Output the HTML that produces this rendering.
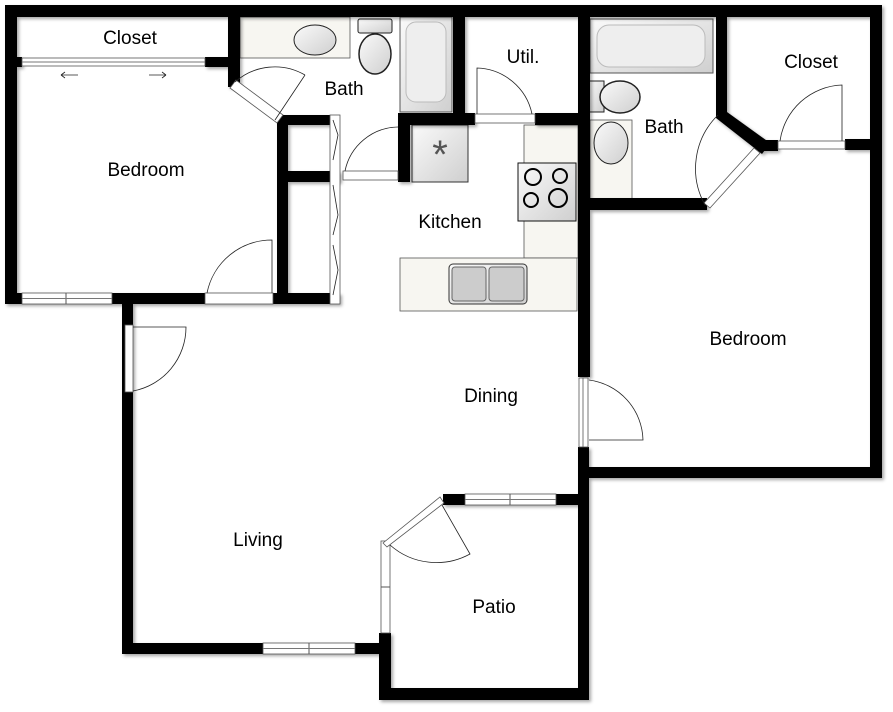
<!DOCTYPE html>
<html><head><meta charset="utf-8"><style>
html,body{margin:0;padding:0;background:#fff;}
svg{display:block;}
text{font-family:"Liberation Sans",sans-serif;font-size:19px;fill:#000;text-anchor:middle;}
.w{fill:#000;}
.win{fill:#fff;stroke:#555;stroke-width:0.8;}
.sw{fill:none;stroke:#222;stroke-width:0.8;}
.ctr{fill:#f7f6f1;stroke:#555;stroke-width:0.8;}
</style></head><body>
<svg width="893" height="712" viewBox="0 0 893 712" xmlns="http://www.w3.org/2000/svg">
<defs>
<linearGradient id="g" x1="0" y1="0" x2="1" y2="1"><stop offset="0" stop-color="#fafafa"/><stop offset="1" stop-color="#cfcfcf"/></linearGradient>
<filter id="sh" x="-5%" y="-5%" width="110%" height="110%"><feDropShadow dx="2" dy="2" stdDeviation="1.5" flood-color="#000" flood-opacity="0.35"/></filter>
</defs>

<rect class="ctr" x="240" y="17" width="110" height="41"/>
<ellipse cx="315" cy="40" rx="21" ry="15" fill="url(#g)" stroke="#222" stroke-width="1"/>
<rect x="358" y="19" width="34" height="14" rx="2" fill="url(#g)" stroke="#222"/>
<ellipse cx="375" cy="54" rx="16" ry="20" fill="url(#g)" stroke="#222" stroke-width="1.5"/>
<rect x="400" y="17" width="52" height="95" fill="url(#g)" stroke="#555"/>
<rect x="406" y="22" width="40" height="80" rx="10" fill="#eee" stroke="#bbb"/>
<rect x="590" y="19" width="123" height="54" fill="url(#g)" stroke="#555"/>
<rect x="597" y="25" width="108" height="42" rx="12" fill="#eee" stroke="#bbb"/>
<rect x="588" y="81" width="16" height="31" fill="url(#g)" stroke="#222"/>
<ellipse cx="620" cy="97" rx="20" ry="16" fill="url(#g)" stroke="#222" stroke-width="1.5"/>
<rect class="ctr" x="590" y="120" width="42" height="80"/>
<ellipse cx="611" cy="143" rx="17" ry="21" fill="url(#g)" stroke="#222"/>

<rect class="ctr" x="524" y="125" width="54" height="133"/>
<rect class="ctr" x="400" y="258" width="177" height="53"/>
<rect x="449" y="264" width="78" height="40" rx="4" fill="url(#g)" stroke="#333"/>
<rect x="452" y="267" width="34" height="34" rx="3" fill="#ccc" stroke="#666"/>
<rect x="489" y="267" width="35" height="34" rx="3" fill="#ccc" stroke="#666"/>
<rect x="412" y="125" width="56" height="57" fill="url(#g)" stroke="#333"/>
<text x="440" y="168" style="font-size:40px;fill:#555">*</text>
<rect x="518" y="163" width="58" height="58" fill="url(#g)" stroke="#111"/>
<circle cx="533" cy="177" r="8" fill="none" stroke="#000" stroke-width="2"/>
<circle cx="560" cy="176" r="7" fill="none" stroke="#000" stroke-width="2"/>
<circle cx="531" cy="200" r="7" fill="none" stroke="#000" stroke-width="2"/>
<circle cx="558" cy="198" r="9" fill="none" stroke="#000" stroke-width="2"/>

<g filter="url(#sh)">
<rect class="w" x="5" y="5" width="877" height="12"/>
<rect class="w" x="5" y="5" width="12" height="299"/>
<rect class="w" x="5" y="293" width="335" height="11"/>
<rect class="w" x="5" y="57" width="17" height="10"/>
<rect class="w" x="205" y="57" width="30" height="10"/>
<rect class="w" x="228" y="5" width="12" height="82"/>
<rect class="w" x="277" y="115" width="11" height="189"/>
<rect class="w" x="277" y="115" width="53" height="10"/>
<rect class="w" x="277" y="171" width="63" height="11"/>
<rect class="w" x="398" y="113" width="12" height="69"/>
<rect class="w" x="398" y="113" width="77" height="12"/>
<rect class="w" x="453" y="5" width="12" height="120"/>
<rect class="w" x="535" y="113" width="55" height="12"/>
<rect class="w" x="578" y="5" width="12" height="372"/>
<rect class="w" x="578" y="447" width="11" height="253"/>
<rect class="w" x="580" y="198" width="127" height="12"/>
<rect class="w" x="716" y="5" width="11" height="107"/>
<polygon class="w" points="716,105 727,112 770,143 762,154 716,118"/>
<rect class="w" x="758" y="140" width="20" height="11"/>
<rect class="w" x="845" y="139" width="37" height="11"/>
<rect class="w" x="870" y="5" width="12" height="473"/>
<rect class="w" x="578" y="467" width="304" height="11"/>
<rect class="w" x="122" y="304" width="11" height="350"/>
<rect class="w" x="122" y="643" width="269" height="11"/>
<rect class="w" x="379" y="633" width="12" height="67"/>
<rect class="w" x="379" y="688" width="210" height="12"/>
<rect class="w" x="443" y="494" width="146" height="11"/>
</g>
<rect x="125" y="325" width="8" height="67" class="win"/>
<rect x="579" y="378" width="9" height="69" class="win"/>
<line x1="583" y1="378" x2="583" y2="447" stroke="#555" stroke-width="0.8"/>
<rect x="22" y="293" width="90" height="11" class="win"/>
<line x1="66" y1="293" x2="66" y2="304" stroke="#555"/><line x1="22" y1="298.5" x2="112" y2="298.5" stroke="#777"/>
<rect x="205" y="293" width="68" height="11" class="win"/>
<rect x="263" y="643" width="92" height="11" class="win"/>
<line x1="309" y1="643" x2="309" y2="654" stroke="#555"/><line x1="263" y1="648.5" x2="355" y2="648.5" stroke="#777"/>
<rect x="465" y="494" width="91" height="11" class="win"/>
<line x1="510" y1="494" x2="510" y2="505" stroke="#555"/><line x1="465" y1="499.5" x2="556" y2="499.5" stroke="#777"/>
<rect x="381" y="541" width="9" height="92" class="win"/>
<line x1="381" y1="587" x2="390" y2="587" stroke="#555"/>
<rect x="22" y="58" width="183" height="8" class="win"/>
<line x1="22" y1="62" x2="205" y2="62" stroke="#777"/>
<rect x="343" y="171" width="55" height="9" class="win"/>
<rect x="475" y="114" width="60" height="9" class="win"/>
<rect x="778" y="141" width="67" height="8" class="win"/>
<rect x="330" y="115" width="10" height="189" class="win"/>
<polyline class="sw" points="333,120 338,135 333,160"/><polyline class="sw" points="333,185 338,215 333,235"/><polyline class="sw" points="333,245 338,270 333,295"/>
<polygon class="win" points="230,88 236,80 283,115 277,123"/>
<polygon class="win" points="704,203 710,208 760,153 754,148"/>
<polygon class="win" points="383,543 387,547 444,503 440,497"/>
<path class="sw" d="M207,293 A66,66 0 0 1 272,240 L272,293"/>
<path class="sw" d="M275,120 L305,75 M235,82 A60,60 0 0 1 305,75"/>
<path class="sw" d="M345,171 A55,55 0 0 1 398,127"/>
<path class="sw" d="M477,114 L477,68 A58,58 0 0 1 532,114"/>
<path class="sw" d="M780,141 A65,65 0 0 1 842,85 L842,141"/>
<path class="sw" d="M705,205 A75,75 0 0 1 718,115"/>
<path class="sw" d="M133,391 A65,65 0 0 0 186,327 L133,327"/>
<path class="sw" d="M589,380 A62,62 0 0 1 643,440 L589,440"/>
<path class="sw" d="M390,545 A70,70 0 0 0 470,554 L442,505"/>
<path class="sw" d="M61,75 L78,75 M61,75 l4,-3 M61,75 l4,3 M149,75 L166,75 M166,75 l-4,-3 M166,75 l-4,3"/>

<text x="130" y="44">Closet</text>
<text x="344" y="95">Bath</text>
<text x="523" y="63">Util.</text>
<text x="664" y="133">Bath</text>
<text x="811" y="68">Closet</text>
<text x="146" y="176">Bedroom</text>
<text x="450" y="228">Kitchen</text>
<text x="748" y="345">Bedroom</text>
<text x="491" y="402">Dining</text>
<text x="258" y="546">Living</text>
<text x="494" y="613">Patio</text>
</svg>
</body></html>
